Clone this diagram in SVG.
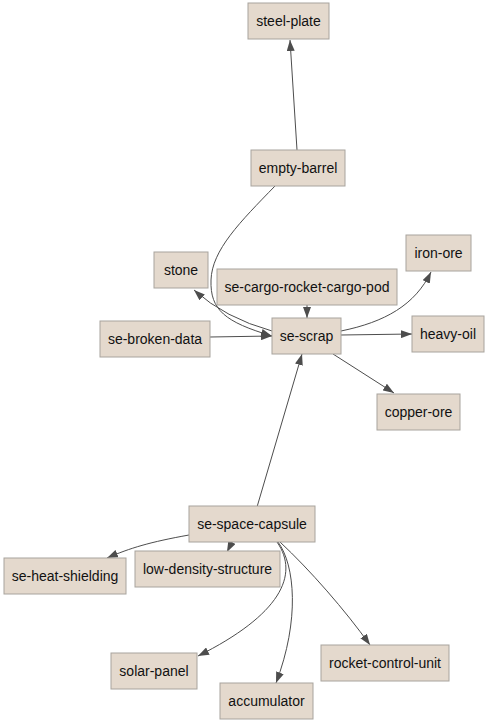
<svg xmlns="http://www.w3.org/2000/svg" width="488" height="723" viewBox="0 0 488 723">
<defs>
<marker id="arr" viewBox="0 0 11 8" refX="11" refY="4" markerWidth="11" markerHeight="8" markerUnits="userSpaceOnUse" orient="auto">
<path d="M0,0 L11,4 L0,8 Z" fill="#4d4d4d"/>
</marker>
<style>
.n rect{fill:#e4d9cd;stroke:#a8a39d;stroke-width:1}
.n text{font-family:"Liberation Sans",Arial,sans-serif;font-size:14px;fill:#111;text-anchor:middle;dominant-baseline:central}
#edges path{fill:none;stroke:#4d4d4d;stroke-width:1;marker-end:url(#arr)}
</style>
</defs>
<rect width="488" height="723" fill="#fff"/>
<g id="edges">
<path d="M297,150 L290,40"/>
<path d="M275,186 C240,222 212,250 211,280 C210,310 225,322 272,336"/>
<path d="M272,331 Q225,318 194,290"/>
<path d="M307,305 L307,318"/>
<path d="M210,337 L272,336"/>
<path d="M341,331 C385,322 415,305 431,272"/>
<path d="M341,335 L412,334"/>
<path d="M333,354 L394,393"/>
<path d="M257,507 L302,354"/>
<path d="M189,535 C150,542 130,548 107,558"/>
<path d="M232,542 L227,552"/>
<path d="M277,542 C300,575 280,615 198,656"/>
<path d="M278,542 C295,565 300,620 276,683"/>
<path d="M280,542 C310,570 345,610 370,645"/>
</g>
<g id="steel-plate" class="n"><rect x="248" y="3" width="81" height="36"/><text x="288.5" y="21">steel-plate</text></g>
<g id="empty-barrel" class="n"><rect x="251" y="150" width="94" height="36"/><text x="298" y="168">empty-barrel</text></g>
<g id="stone" class="n"><rect x="154" y="252" width="54" height="36"/><text x="181" y="270">stone</text></g>
<g id="se-cargo-rocket-cargo-pod" class="n"><rect x="217" y="269" width="180" height="36"/><text x="307" y="287">se-cargo-rocket-cargo-pod</text></g>
<g id="iron-ore" class="n"><rect x="406" y="235" width="65" height="36"/><text x="438.5" y="253">iron-ore</text></g>
<g id="se-broken-data" class="n"><rect x="100" y="321" width="110" height="36"/><text x="155" y="339">se-broken-data</text></g>
<g id="se-scrap" class="n"><rect x="272" y="318" width="69" height="36"/><text x="306.5" y="336">se-scrap</text></g>
<g id="heavy-oil" class="n"><rect x="412" y="316" width="72" height="36"/><text x="448" y="334">heavy-oil</text></g>
<g id="copper-ore" class="n"><rect x="377" y="394" width="83" height="36"/><text x="418.5" y="412">copper-ore</text></g>
<g id="se-space-capsule" class="n"><rect x="189" y="506" width="126" height="36"/><text x="252" y="524">se-space-capsule</text></g>
<g id="se-heat-shielding" class="n"><rect x="4" y="558" width="122" height="36"/><text x="65" y="576">se-heat-shielding</text></g>
<g id="low-density-structure" class="n"><rect x="135" y="551" width="145" height="36"/><text x="207.5" y="569">low-density-structure</text></g>
<g id="solar-panel" class="n"><rect x="111" y="653" width="86" height="36"/><text x="154" y="671">solar-panel</text></g>
<g id="accumulator" class="n"><rect x="220" y="683" width="93" height="36"/><text x="266.5" y="701">accumulator</text></g>
<g id="rocket-control-unit" class="n"><rect x="321" y="645" width="128" height="36"/><text x="385" y="663">rocket-control-unit</text></g>
</svg>
